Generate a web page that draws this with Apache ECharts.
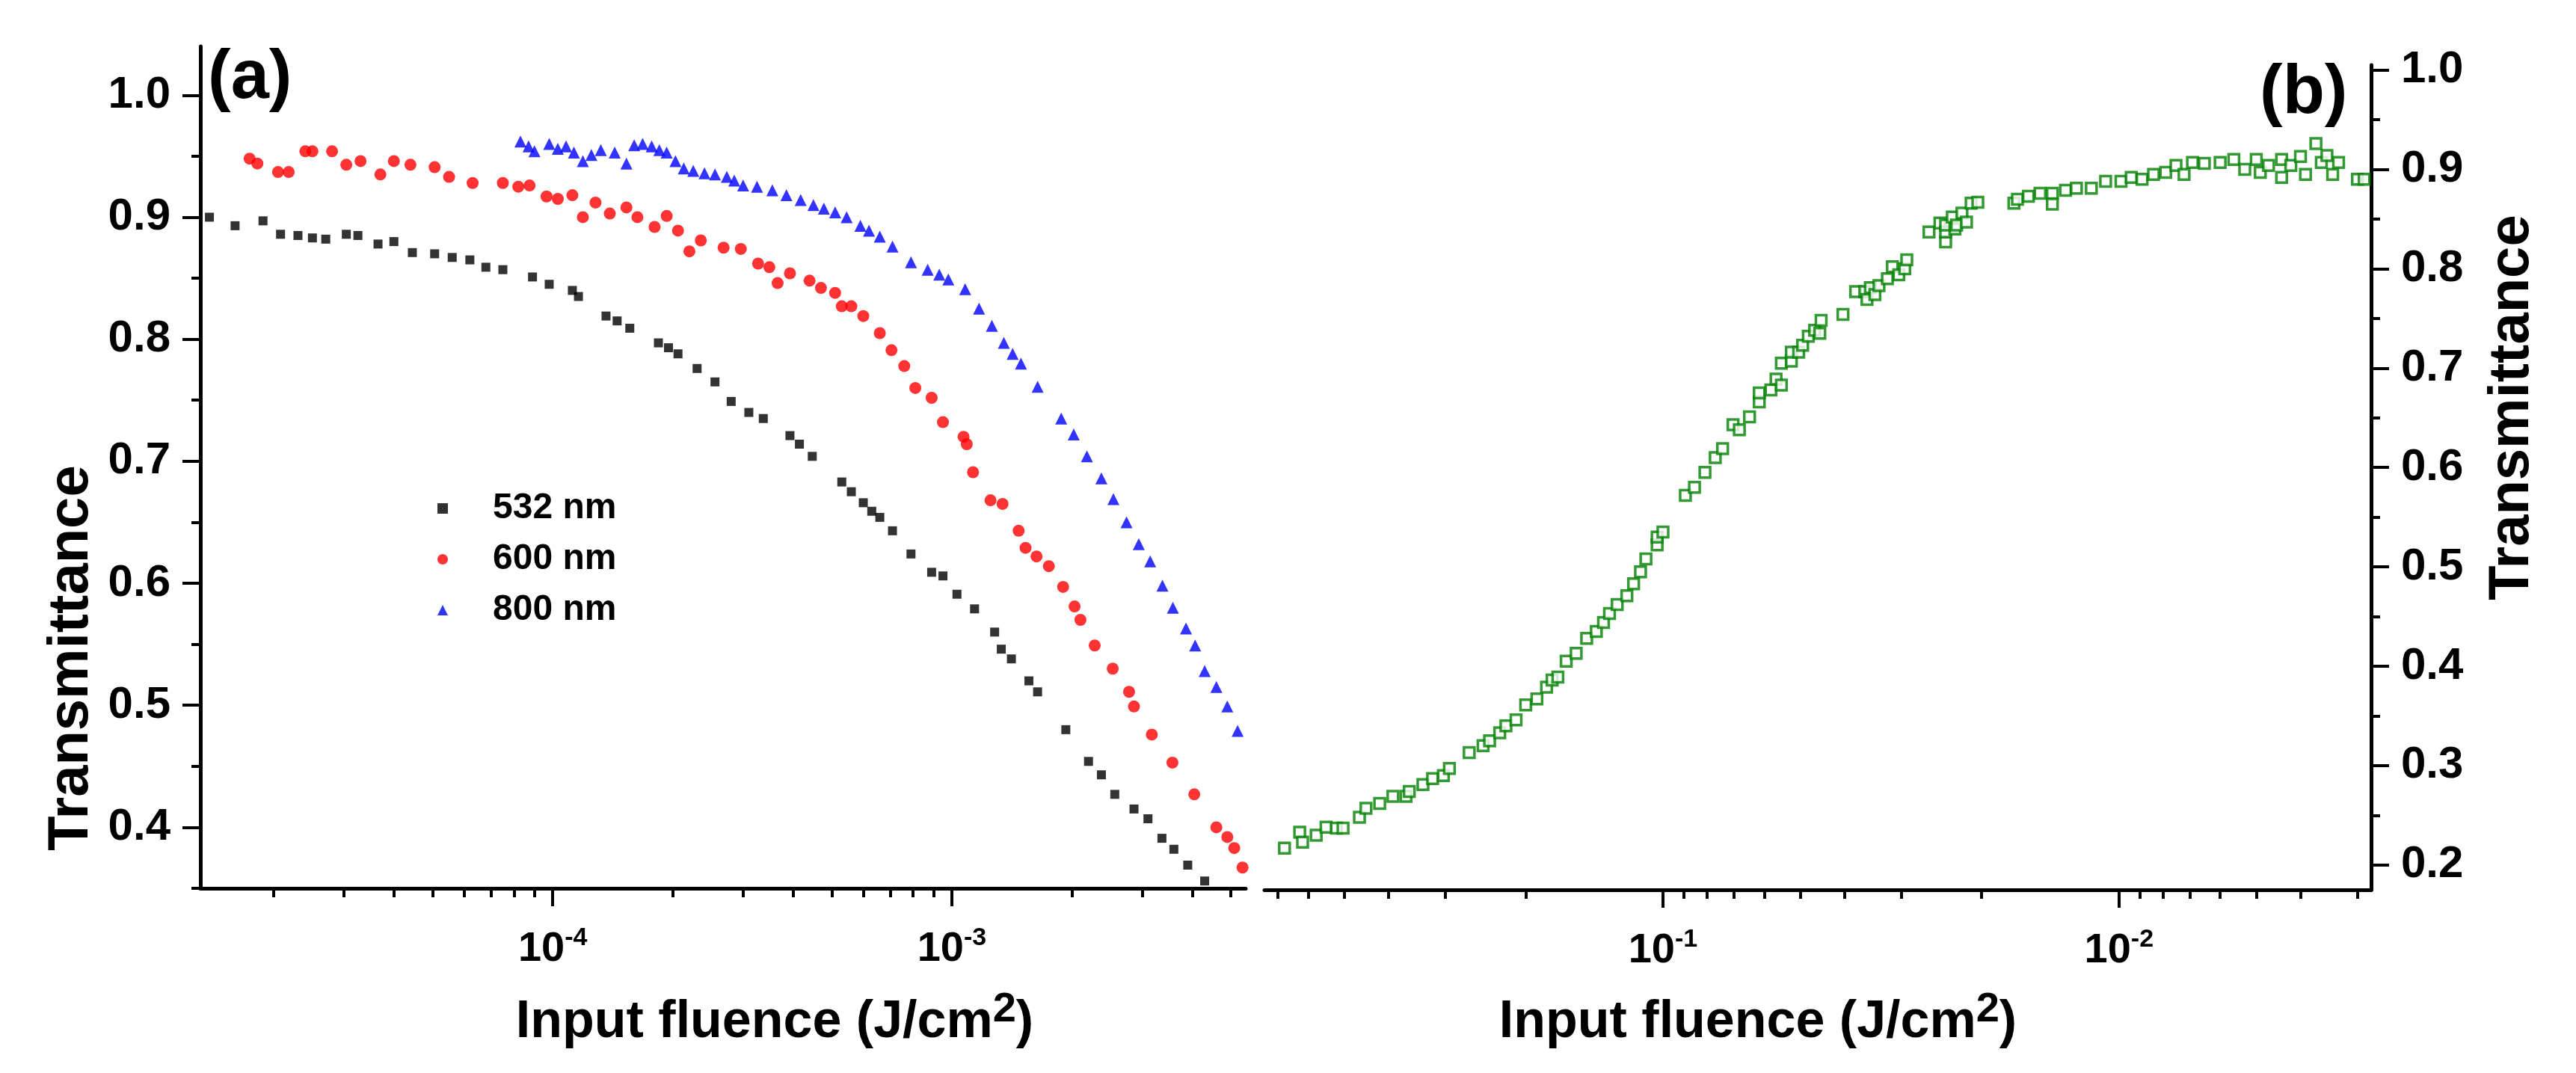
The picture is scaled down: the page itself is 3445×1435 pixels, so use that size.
<!DOCTYPE html>
<html>
<head>
<meta charset="utf-8">
<script src="https://cdn.jsdelivr.net/npm/echarts@6/dist/echarts.min.js"></script>
<style>
  html, body { margin: 0; padding: 0; background: #fff; }
  #chart { width: 3445px; height: 1435px; }
</style>
</head>
<body>
<div id="chart"></div>
<script>
// panel (a): [fluence J/cm2, transmittance]
var nm532 = [[1.38e-5,0.90],[1.6e-5,0.893],[1.88e-5,0.897],[2.08e-5,0.886],[2.3e-5,0.885],[2.5e-5,0.883],[2.7e-5,0.882],[3.04e-5,0.886],[3.25e-5,0.885],[3.65e-5,0.878],[4.0e-5,0.88],[4.45e-5,0.871],[5.06e-5,0.87],[5.6e-5,0.867],[6.2e-5,0.865],[6.8e-5,0.859],[7.5e-5,0.857],[8.9e-5,0.851],[9.8e-5,0.845],[1.12e-4,0.84],[1.16e-4,0.835],[1.36e-4,0.819],[1.45e-4,0.815],[1.56e-4,0.809],[1.84e-4,0.797],[1.95e-4,0.793],[2.06e-4,0.788],[2.3e-4,0.776],[2.55e-4,0.765],[2.8e-4,0.749],[3.1e-4,0.74],[3.37e-4,0.735],[3.93e-4,0.721],[4.15e-4,0.714],[4.47e-4,0.704],[5.3e-4,0.683],[5.6e-4,0.675],[6.0e-4,0.666],[6.3e-4,0.659],[6.6e-4,0.654],[7.1e-4,0.643],[7.9e-4,0.624],[8.9e-4,0.609],[9.5e-4,0.606],[1.03e-3,0.591],[1.14e-3,0.579],[1.28e-3,0.56],[1.33e-3,0.546],[1.41e-3,0.538],[1.56e-3,0.52],[1.64e-3,0.511],[1.93e-3,0.48],[2.2e-3,0.454],[2.37e-3,0.443],[2.56e-3,0.427],[2.86e-3,0.415],[3.1e-3,0.407],[3.36e-3,0.391],[3.6e-3,0.382],[3.9e-3,0.369],[4.3e-3,0.356]];
var nm600 = [[1.74e-5,0.948],[1.82e-5,0.944],[2.05e-5,0.937],[2.18e-5,0.937],[2.4e-5,0.954],[2.5e-5,0.954],[2.8e-5,0.954],[3.04e-5,0.943],[3.3e-5,0.946],[3.7e-5,0.935],[4.0e-5,0.946],[4.4e-5,0.943],[5.06e-5,0.941],[5.5e-5,0.933],[6.3e-5,0.928],[7.5e-5,0.928],[8.2e-5,0.925],[8.75e-5,0.926],[9.65e-5,0.917],[1.03e-4,0.915],[1.12e-4,0.918],[1.19e-4,0.90],[1.28e-4,0.912],[1.39e-4,0.903],[1.53e-4,0.908],[1.63e-4,0.90],[1.8e-4,0.892],[1.93e-4,0.901],[2.06e-4,0.889],[2.2e-4,0.872],[2.35e-4,0.881],[2.68e-4,0.875],[2.96e-4,0.874],[3.27e-4,0.862],[3.49e-4,0.859],[3.66e-4,0.846],[3.93e-4,0.854],[4.4e-4,0.848],[4.7e-4,0.842],[5.1e-4,0.838],[5.3e-4,0.827],[5.6e-4,0.827],[6.0e-4,0.819],[6.6e-4,0.805],[7.06e-4,0.791],[7.6e-4,0.778],[8.1e-4,0.76],[8.9e-4,0.752],[9.5e-4,0.732],[1.07e-3,0.72],[1.09e-3,0.714],[1.13e-3,0.691],[1.25e-3,0.668],[1.34e-3,0.665],[1.47e-3,0.643],[1.53e-3,0.629],[1.63e-3,0.622],[1.75e-3,0.614],[1.9e-3,0.597],[2.03e-3,0.581],[2.1e-3,0.57],[2.28e-3,0.549],[2.53e-3,0.53],[2.78e-3,0.511],[2.86e-3,0.499],[3.17e-3,0.476],[3.57e-3,0.453],[4.05e-3,0.427],[4.6e-3,0.40],[4.9e-3,0.392],[5.1e-3,0.383],[5.35e-3,0.367]];
var nm800 = [[8.3e-5,0.962],[8.7e-5,0.958],[9.0e-5,0.954],[9.8e-5,0.96],[1.03e-4,0.956],[1.08e-4,0.958],[1.13e-4,0.953],[1.19e-4,0.946],[1.25e-4,0.951],[1.32e-4,0.955],[1.43e-4,0.953],[1.53e-4,0.944],[1.6e-4,0.959],[1.68e-4,0.96],[1.77e-4,0.958],[1.85e-4,0.955],[1.93e-4,0.953],[2.03e-4,0.946],[2.13e-4,0.94],[2.25e-4,0.938],[2.4e-4,0.936],[2.55e-4,0.935],[2.73e-4,0.933],[2.85e-4,0.93],[3.0e-4,0.926],[3.25e-4,0.925],[3.55e-4,0.922],[3.85e-4,0.918],[4.18e-4,0.914],[4.5e-4,0.91],[4.78e-4,0.907],[5.1e-4,0.904],[5.45e-4,0.90],[5.9e-4,0.893],[6.2e-4,0.889],[6.6e-4,0.884],[7.1e-4,0.876],[7.9e-4,0.863],[8.7e-4,0.857],[9.3e-4,0.853],[9.8e-4,0.849],[1.08e-3,0.841],[1.17e-3,0.825],[1.26e-3,0.811],[1.35e-3,0.797],[1.42e-3,0.788],[1.49e-3,0.78],[1.64e-3,0.761],[1.88e-3,0.735],[2.02e-3,0.722],[2.18e-3,0.704],[2.37e-3,0.686],[2.54e-3,0.669],[2.74e-3,0.65],[2.94e-3,0.632],[3.14e-3,0.618],[3.37e-3,0.598],[3.58e-3,0.58],[3.86e-3,0.563],[4.07e-3,0.549],[4.3e-3,0.528],[4.6e-3,0.515],[4.9e-3,0.499],[5.2e-3,0.479]];
// panel (b): [fluence J/cm2, transmittance], axis runs high to low
var panelB = [[0.676,0.217],[0.626,0.233],[0.617,0.223],[0.576,0.23],[0.548,0.238],[0.52,0.237],[0.503,0.237],[0.463,0.248],[0.448,0.257],[0.418,0.262],[0.391,0.269],[0.366,0.269],[0.36,0.274],[0.336,0.281],[0.32,0.287],[0.303,0.29],[0.294,0.297],[0.266,0.313],[0.248,0.32],[0.24,0.325],[0.228,0.333],[0.221,0.34],[0.21,0.346],[0.2,0.361],[0.189,0.367],[0.18,0.379],[0.175,0.386],[0.17,0.389],[0.163,0.405],[0.155,0.413],[0.147,0.428],[0.14,0.435],[0.135,0.444],[0.131,0.453],[0.126,0.462],[0.12,0.471],[0.116,0.483],[0.112,0.495],[0.109,0.508],[0.103,0.522],[0.103,0.53],[0.1,0.535],[0.0893,0.572],[0.0853,0.58],[0.0809,0.595],[0.0768,0.61],[0.074,0.619],[0.0702,0.643],[0.068,0.638],[0.0646,0.651],[0.0615,0.666],[0.0615,0.675],[0.058,0.678],[0.0565,0.689],[0.055,0.683],[0.055,0.705],[0.0523,0.707],[0.0523,0.716],[0.0504,0.716],[0.0494,0.723],[0.048,0.732],[0.0465,0.738],[0.0453,0.735],[0.045,0.748],[0.0403,0.754],[0.0378,0.777],[0.0361,0.777],[0.0357,0.769],[0.0351,0.781],[0.0343,0.774],[0.0336,0.783],[0.0322,0.79],[0.0314,0.802],[0.0304,0.794],[0.0295,0.80],[0.0292,0.809],[0.0261,0.837],[0.0247,0.846],[0.024,0.827],[0.024,0.837],[0.024,0.844],[0.0232,0.852],[0.0229,0.84],[0.0227,0.844],[0.0221,0.856],[0.0216,0.847],[0.0211,0.866],[0.0204,0.867],[0.0170,0.866],[0.0167,0.87],[0.0158,0.873],[0.0149,0.876],[0.014,0.876],[0.014,0.865],[0.0131,0.879],[0.0124,0.881],[0.0115,0.881],[0.0107,0.888],[0.0099,0.888],[0.0094,0.892],[0.0089,0.89],[0.0084,0.895],[0.0079,0.897],[0.0075,0.904],[0.0072,0.895],[0.0069,0.907],[0.0065,0.906],[0.006,0.907],[0.0056,0.91],[0.0053,0.90],[0.005,0.91],[0.0049,0.897],[0.0047,0.904],[0.0044,0.91],[0.0044,0.892],[0.0042,0.904],[0.004,0.913],[0.0039,0.895],[0.0037,0.926],[0.0036,0.907],[0.0035,0.914],[0.0034,0.895],[0.0033,0.907],[0.003,0.89],[0.0029,0.89]];

var aMinor = [2e-5,3e-5,4e-5,5e-5,6e-5,7e-5,8e-5,9e-5,2e-4,3e-4,4e-4,5e-4,6e-4,7e-4,8e-4,9e-4,2e-3,3e-3,4e-3,5e-3];
var aMajor = [1e-4, 1e-3];
var bMinor = [0.7,0.6,0.5,0.4,0.3,0.2,0.09,0.08,0.07,0.06,0.05,0.04,0.03,0.02,0.009,0.008,0.007,0.006,0.005,0.004,0.003];
var bMajor = [0.1, 0.01];
var aYLabels = [0.4,0.5,0.6,0.7,0.8,0.9,1.0];
var aYMinor = [0.35,0.45,0.55,0.65,0.75,0.85,0.95];
var bYLabels = [0.2,0.3,0.4,0.5,0.6,0.7,0.8,0.9,1.0];
var bYMinor = [0.25,0.35,0.45,0.55,0.65,0.75,0.85,0.95];

var FONT = '"Liberation Sans Narrow", "Arial Narrow", sans-serif';
var line = { lineStyle: { color: '#000', width: 5 } };

function expLabel(v) {
  var e = Math.round(Math.log10(v));
  return '{b|10}{s|' + e + '}';
}
var expRich = {
  b: { fontFamily: FONT, fontWeight: 'bold', fontSize: 56, color: '#000' },
  s: { fontFamily: FONT, fontWeight: 'bold', fontSize: 34, color: '#000', padding: [0, 0, 30, 0] }
};

function xAxes(grid, min, max, minor, major, inverse) {
  return [{
    type: 'log', gridIndex: grid, position: 'bottom', min: min, max: max, inverse: inverse,
    axisLine: line, splitLine: { show: false },
    axisTick: { customValues: minor.concat(major), length: 12, lineStyle: { width: 4, color: '#000' } },
    axisLabel: { customValues: major, margin: 50, formatter: expLabel, rich: expRich }
  }, {
    type: 'log', gridIndex: grid, position: 'bottom', min: min, max: max, inverse: inverse,
    axisLine: { show: false }, splitLine: { show: false },
    axisTick: { customValues: major, length: 24, lineStyle: { width: 4, color: '#000' } },
    axisLabel: { show: false }
  }];
}
function yAxes(grid, pos, min, max, labels, minor) {
  return [{
    type: 'value', gridIndex: grid, position: pos, min: min, max: max,
    axisLine: line, splitLine: { show: false },
    axisTick: { customValues: labels, length: 24, lineStyle: { width: 4, color: '#000' } },
    axisLabel: { customValues: labels, margin: 40, fontFamily: FONT, fontWeight: 'bold', fontSize: 60, color: '#000',
      formatter: function (v) { return v.toFixed(1); } }
  }, {
    type: 'value', gridIndex: grid, position: pos, min: min, max: max,
    axisLine: { show: false }, splitLine: { show: false },
    axisTick: { customValues: minor, length: 12, lineStyle: { width: 4, color: '#000' } },
    axisLabel: { show: false }
  }];
}

var chart = echarts.init(document.getElementById('chart'));
var option = {
  backgroundColor: '#fff',
  animation: false,
  grid: [
    { left: 268, right: 1779, top: 62, bottom: 247 },
    { left: 1691, right: 274, top: 87, bottom: 245 }
  ],
  xAxis: xAxes(0, 1.31e-5, 5.45e-3, aMinor, aMajor, false)
    .concat(xAxes(1, 2.8e-3, 0.748, bMinor, bMajor, true)),
  yAxis: yAxes(0, 'left', 0.35, 1.04, aYLabels, aYMinor)
    .concat(yAxes(1, 'right', 0.175, 1.005, bYLabels, bYMinor)),
  legend: {
    left: 580, top: 650, orient: 'vertical', itemWidth: 14, itemHeight: 14, itemGap: 18,
    data: ['532 nm', '600 nm', '800 nm'],
    textStyle: { fontFamily: FONT, fontWeight: 'bold', fontSize: 48, color: '#000', lineHeight: 50, padding: [0, 0, 0, 55] }
  },
  series: [
    { name: '532 nm', type: 'scatter', xAxisIndex: 0, yAxisIndex: 0, symbol: 'rect', symbolSize: 12,
      itemStyle: { color: '#000' }, data: nm532 },
    { name: '600 nm', type: 'scatter', xAxisIndex: 0, yAxisIndex: 0, symbol: 'circle', symbolSize: 16,
      itemStyle: { color: '#ff0000' }, data: nm600 },
    { name: '800 nm', type: 'scatter', xAxisIndex: 0, yAxisIndex: 0, symbol: 'triangle', symbolSize: 16,
      itemStyle: { color: '#0000ff' }, data: nm800 },
    { name: 'b', type: 'scatter', xAxisIndex: 2, yAxisIndex: 2, symbol: 'rect', symbolSize: 14,
      itemStyle: { color: '#fff', borderColor: '#008000', borderWidth: 3.5 }, data: panelB }
  ],
  graphic: [
    { type: 'text', left: 278, top: 60, style: { text: '(a)', font: 'bold 92px "Liberation Sans", Arial, sans-serif', fill: '#000' } },
    { type: 'text', left: 3022, top: 80, style: { text: '(b)', font: 'bold 92px "Liberation Sans", Arial, sans-serif', fill: '#000' } },
    { type: 'text', x: 96, y: 880, rotation: Math.PI / 2,
      style: { text: 'Transmittance', font: 'bold 76px ' + FONT, fill: '#000', align: 'center', verticalAlign: 'middle' } },
    { type: 'text', x: 3360, y: 545, rotation: Math.PI / 2,
      style: { text: 'Transmittance', font: 'bold 76px ' + FONT, fill: '#000', align: 'center', verticalAlign: 'middle' } },
    { type: 'text', x: 1036, y: 1368,
      style: { text: '{t|Input fluence (J/cm}{s|2}{t|)}', align: 'center', verticalAlign: 'middle',
        rich: { t: { fontFamily: FONT, fontWeight: 'bold', fontSize: 70, fill: '#000' },
                s: { fontFamily: FONT, fontWeight: 'bold', fontSize: 56, fill: '#000', padding: [0, 0, 34, 0] } } } },
    { type: 'text', x: 2351, y: 1368,
      style: { text: '{t|Input fluence (J/cm}{s|2}{t|)}', align: 'center', verticalAlign: 'middle',
        rich: { t: { fontFamily: FONT, fontWeight: 'bold', fontSize: 70, fill: '#000' },
                s: { fontFamily: FONT, fontWeight: 'bold', fontSize: 56, fill: '#000', padding: [0, 0, 34, 0] } } } }
  ]
};
chart.setOption(option);
</script>
</body>
</html>
